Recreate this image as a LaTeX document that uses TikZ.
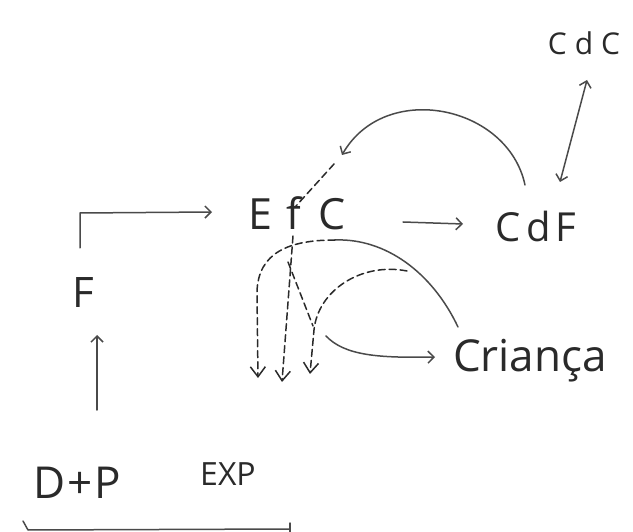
\documentclass[tikz,border=0pt]{standalone}
\usepackage{fontspec}
\setmainfont{Open Sans}
\usetikzlibrary{arrows.meta,calc}
\definecolor{ink}{HTML}{2A2A2A}
\definecolor{pen}{HTML}{4A4A4A}
\tikzset{
  lbl/.style={inner sep=0pt, anchor=base, text=ink},
  line/.style={draw=pen, line width=1.5pt, line cap=round, line join=round},
  dsh/.style={line, draw=ink, dash pattern=on 7pt off 4pt},
  tip/.style={-{Straight Barb[length=6pt,width=12pt]}},
  bigtip/.style={-{Straight Barb[length=10pt,width=15pt]}},
}
\begin{document}
\begin{tikzpicture}[x=1pt,y=-1pt]
\useasboundingbox (0,0) rectangle (633,532);
% nodes
\node[lbl,font=\fontsize{30}{30}\selectfont] (CdC) at (584,55) {C\hspace{8pt}d\hspace{8pt}C};
\node[lbl,font=\fontsize{40}{40}\selectfont] (CdF) at (536,242) {C\hspace{5pt}d\hspace{5pt}F};
\node[lbl,font=\fontsize{43}{43}\selectfont] (EfC) at (297,230) {E\hspace{14pt}f\hspace{18pt}C};
\node[lbl,font=\fontsize{42}{42}\selectfont] (F) at (83,308) {F};
\node[lbl,font=\fontsize{44}{44}\selectfont] (DP) at (77,498) {D\hspace{2pt}+\hspace{2pt}P};
\node[lbl,font=\fontsize{32}{32}\selectfont] (EXP) at (228,485) {EXP};
\node[lbl,font=\fontsize{44}{44}\selectfont] (Cri) at (530,372) {Criança};
% helper coordinates
\coordinate (fbot) at ($(EfC.base)+(-4,6)$);
\coordinate (ftop) at ($(EfC.base)+(-1,-24)$);
\coordinate (arcend) at (342,155);
\coordinate (dshstart) at (334,164);
\coordinate (split) at (335,240);
\coordinate (j1) at (288,262);
\coordinate (j2) at (313,326);
\coordinate (inner) at (407,271);
\coordinate (cr0) at (326,336);
\coordinate (x1) at (258,378);
\coordinate (x2) at (282,382);
\coordinate (x3) at (310,374);
% F -> EfC
\draw[line,tip] ($(F.base)+(-3,-60)$) -- ++(0,-35) -- ($(EfC.base)+(-85,-18)$);
% D+P -> F
\draw[line,tip] ($(DP.base)+(20,-88)$) -- ($(F.base)+(14,27)$);
% EfC -> CdF
\draw[line,tip] ($(EfC.base)+(106,-8)$) -- ($(CdF.base)+(-73,-18)$);
% CdF <-> CdC
\draw[line,{Straight Barb[length=6pt,width=12pt]}-{Straight Barb[length=6pt,width=12pt]}] ($(CdF.base)+(24,-60)$) -- ($(CdC.base)+(3,25)$);
% CdF arc -> EfC
\draw[line,tip] ($(CdF.base)+(-11,-57)$) .. controls (508,105) and (385,80) .. (arcend);
\draw[dsh] (dshstart) -- (ftop);
% big curve from Criança
\draw[line] ($(Cri.base)+(-72,-45)$) .. controls (432,272) and (385,238) .. (split);
\draw[dsh,bigtip] (split) .. controls (290,240) and (258,252) .. (257,292) -- (x1);
% middle dashed
\draw[dsh,bigtip] (fbot) -- (x2);
% inner dashed arc
\draw[dsh,bigtip] (inner) .. controls (362,262) and (318,290) .. (314,330) -- (x3);
\draw[dsh] (j1) -- (j2);
% solid arrow to Criança
\draw[line,tip] (cr0) .. controls (345,356) and (380,358) .. ($(Cri.base)+(-95,-15)$);
% bottom bracket
\draw[line] (23,521) -- (28,530) -- (290,529);
\draw[line] (290,523) -- (290,532);
\end{tikzpicture}
\end{document}
